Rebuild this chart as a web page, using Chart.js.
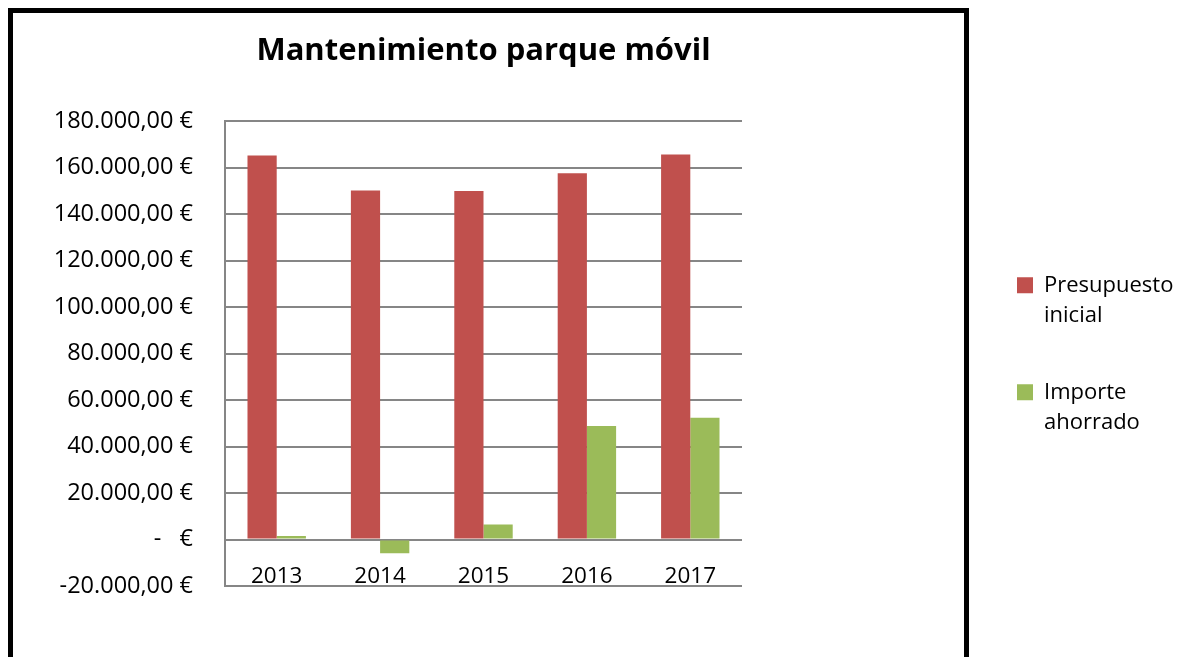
<!DOCTYPE html>
<html>
<head>
<meta charset="utf-8">
<script src="https://cdn.jsdelivr.net/npm/chart.js@4/dist/chart.umd.min.js"></script>
<style>
  body { margin: 0; background: #fff; }
  #wrap { position: relative; width: 1191px; height: 657px; overflow: hidden; }
  #frame { position: absolute; left: 8px; top: 8px; width: 951px; height: 700px;
           border: 5px solid #000; border-bottom: none; }
  canvas { position: absolute; left: 0; top: 0; }
</style>
</head>
<body>
<div id="wrap">
  <div id="frame"></div>
  <canvas id="bar-chart" width="1191" height="657"></canvas>
</div>
<script>
// data
const years = ['2013', '2014', '2015', '2016', '2017'];
const presupuesto = [165200, 150200, 150000, 157600, 165700];
const ahorrado = [1500, -5900, 6500, 48900, 52400];
const seriesNames = [['Presupuesto', 'inicial'], ['Importe', 'ahorrado']];
// y tick labels, bottom (-20.000) to top (180.000)
const yTickLabels = ['-20.000,00 €', '-   €', '20.000,00 €', '40.000,00 €', '60.000,00 €',
  '80.000,00 €', '100.000,00 €', '120.000,00 €', '140.000,00 €', '160.000,00 €', '180.000,00 €'];

const font = 'Open Sans';

let config = {
  type: 'bar',
  data: {
    labels: years,
    datasets: [
      { label: seriesNames[0], data: presupuesto, backgroundColor: '#C0504D' },
      { label: seriesNames[1], data: ahorrado, backgroundColor: '#9BBB59' }
    ]
  },
  options: {
    responsive: false,
    animation: false,
    categoryPercentage: 0.565,
    barPercentage: 1.0,
    layout: { padding: { left: 10, top: 0, right: 11, bottom: 71 } },
    scales: {
      x: {
        position: { y: 0 },
        grid: { display: false },
        border: { display: false },
        ticks: { color: '#000', padding: 16, font: { family: font, size: 22.5 } }
      },
      y: {
        min: -20000,
        max: 180000,
        ticks: {
          stepSize: 20000,
          color: '#000',
          padding: 32,
          font: { family: font, size: 23.5 },
          callback: (v, i) => yTickLabels[i]
        },
        grid: { color: '#868686', lineWidth: 2, drawTicks: false },
        border: { color: '#868686', width: 2 },
        afterFit: s => { s.width = 215; }
      },
      // empty axis that only keeps the gap between plot and legend
      gap: {
        type: 'linear',
        position: 'right',
        grid: { display: false },
        border: { display: false },
        ticks: { display: false },
        afterFit: s => { s.width = 228; }
      }
    },
    plugins: {
      title: {
        display: true,
        text: 'Mantenimiento parque móvil',
        color: '#000',
        fullSize: false,
        font: { family: font, size: 31, weight: 'bold', lineHeight: 1.2 },
        padding: { top: 33, bottom: 51 }
      },
      legend: {
        display: true,
        position: 'right',
        fullSize: false,
        maxWidth: 210,
        title: { display: true, text: ' ', font: { size: 2 }, padding: 3 },
        labels: {
          color: '#000',
          boxWidth: 16,
          boxHeight: 16,
          padding: 47,
          font: { family: font, size: 22, lineHeight: 30 / 22 }
        }
      },
      tooltip: { enabled: false }
    }
  }
};

let ctx = document.getElementById('bar-chart').getContext('2d');
window.myBar = new Chart(ctx, config);
</script>
</body>
</html>
